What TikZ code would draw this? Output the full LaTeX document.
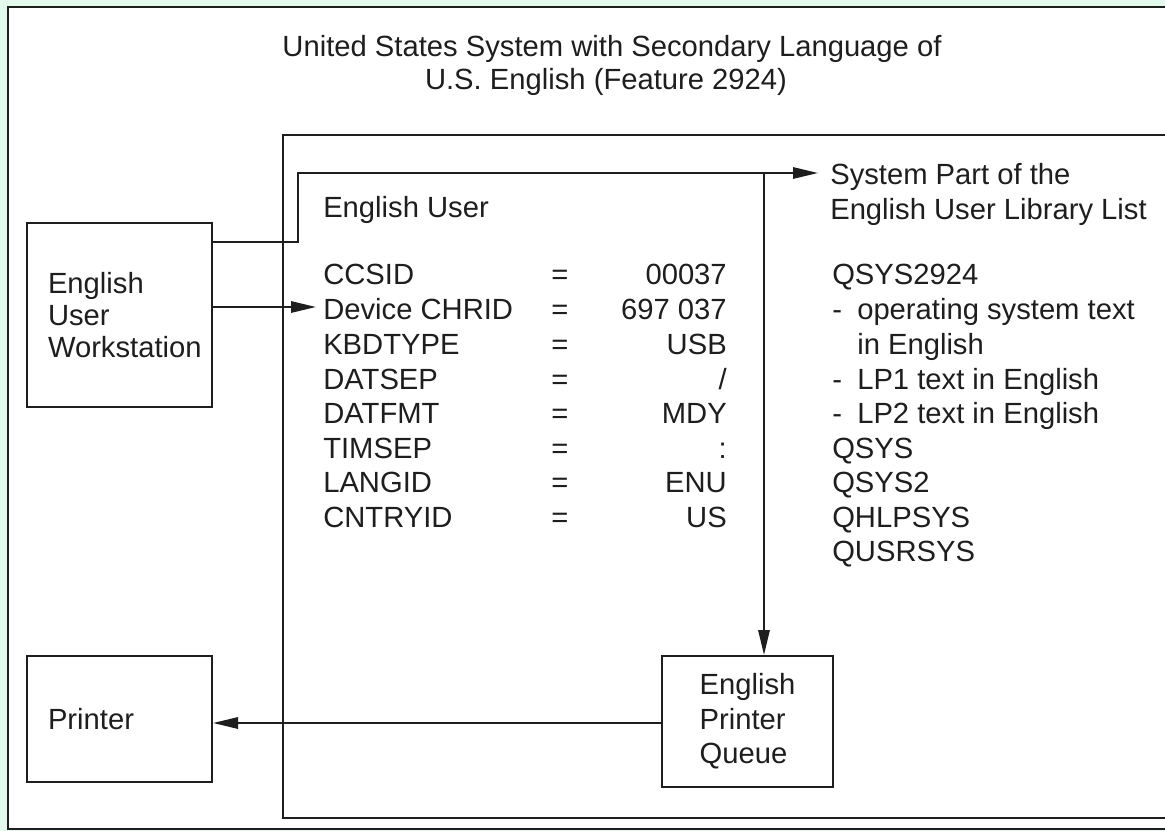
\documentclass[tikz,border=0pt]{standalone}
\usepackage{fontspec}
\setmainfont{Liberation Sans}
\usetikzlibrary{arrows.meta}
\definecolor{bgg}{RGB}{226,250,236}
\definecolor{ink}{RGB}{30,30,30}
\begin{document}
\begin{tikzpicture}[x=0.75pt,y=-0.75pt,
  txt/.style={inner sep=0pt, text=ink, font=\fontsize{21.9}{26}\selectfont},
  lbl/.style={txt, anchor=base west},
  val/.style={txt, anchor=base east},
  eqs/.style={txt, anchor=base},
  boxnode/.style={draw=ink, line width=1.5pt, txt, align=left},
  conn/.style={draw=ink, line width=1.5pt},
  arr/.style={conn, -{Triangle[length=18.75pt,width=8.5pt]}}]
\useasboundingbox (0,0) rectangle (1165,831);
\fill[bgg] (0,0) rectangle (1165,831);
\begin{scope}
\clip (0,0) rectangle (1165,831);
\draw[draw=ink, line width=1.8pt, fill=white] (8,7) rectangle (1200,829);
\draw[draw=ink, line width=1.5pt] (283,135) rectangle (1200,818);
\end{scope}
% title
\node[txt, anchor=base] (t1) at (612,57) {United States System with Secondary Language of};
\node[txt, anchor=base] (t2) at (606,90) {U.S. English (Feature 2924)};
% boxes
\node[boxnode, minimum width=138.75pt, minimum height=138pt, text width=107.25pt, inner xsep=15.75pt, font=\fontsize{21.9}{24}\selectfont] (ws) at (119.5,315) {English\\User\\Workstation};
\node[boxnode, minimum width=138.75pt, minimum height=94.5pt, text width=107.25pt, inner xsep=15.75pt] (pr) at (119.5,719) {Printer};
\node[boxnode, minimum width=128.25pt, minimum height=98.25pt] (pq) at (747.5,721.5) {English\\Printer\\Queue};
% English user block
\node[lbl] (eu) at (323,218) {English User};
\node[lbl] (k1) at (323,285) {CCSID};
\node[lbl] (k2) at (323,320) {Device CHRID};
\node[lbl] (k3) at (323,354) {KBDTYPE};
\node[lbl] (k4) at (323,389) {DATSEP};
\node[lbl] (k5) at (323,423) {DATFMT};
\node[lbl] (k6) at (323,458) {TIMSEP};
\node[lbl] (k7) at (323,492) {LANGID};
\node[lbl] (k8) at (323,527) {CNTRYID};
\foreach \i/\y in {1/285,2/320,3/354,4/389,5/423,6/458,7/492,8/527}
  \node[eqs] (e\i) at (560,\y) {=};
\node[val] (v1) at (727,285) {00037};
\node[val] (v2) at (727,320) {697 037};
\node[val] (v3) at (727,354) {USB};
\node[val] (v4) at (727,389) {/};
\node[val] (v5) at (727,423) {MDY};
\node[val] (v6) at (727,458) {:};
\node[val] (v7) at (727,492) {ENU};
\node[val] (v8) at (727,527) {US};
% library list
\node[lbl] (s1) at (830,185) {System Part of the};
\node[lbl] (s2) at (830,220) {English User Library List};
\node[lbl] (q1) at (832,285) {QSYS2924};
\node[lbl] (d1) at (832,320) {-};
\node[lbl] (q2) at (857,320) {operating system text};
\node[lbl] (q3) at (857,354) {in English};
\node[lbl] (d2) at (832,389) {-};
\node[lbl] (q4) at (857,389) {LP1 text in English};
\node[lbl] (d3) at (832,423) {-};
\node[lbl] (q5) at (857,423) {LP2 text in English};
\node[lbl] (q6) at (832,458) {QSYS};
\node[lbl] (q7) at (832,492) {QSYS2};
\node[lbl] (q8) at (832,527) {QHLPSYS};
\node[lbl] (q9) at (832,561) {QUSRSYS};
% connectors
\coordinate (a1) at (212,242);
\coordinate (j1) at (298,242);
\coordinate (j2) at (298,173);
\coordinate (tip1) at (818,173);
\coordinate (jv) at (764,173);
\coordinate (a2) at (212,307);
\coordinate (tip2) at (316,307);
\coordinate (a3) at (662,723);
\draw[arr] (ws.east |- a1) -- (j1) -- (j2) -- (tip1);
\draw[arr] (jv) -- (jv |- pq.north);
\draw[arr] (ws.east |- a2) -- (tip2);
\draw[arr] (pq.west |- a3) -- (pr.east |- a3);
\end{tikzpicture}
\end{document}
